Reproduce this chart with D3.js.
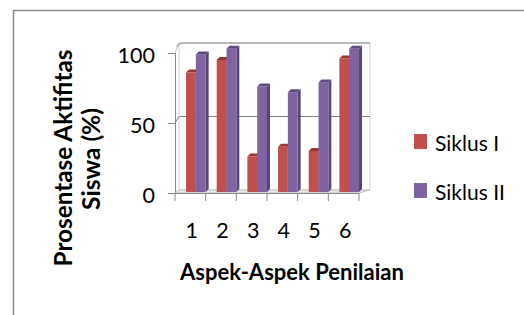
<!DOCTYPE html>
<html><head><meta charset="utf-8">
<script src="https://cdn.jsdelivr.net/npm/d3@7"></script>
<style>html,body{margin:0;padding:0;background:#fff;}svg{display:block;font-family:Lato,"Open Sans",sans-serif;}</style>
</head><body>
<script>
const categories = ["1","2","3","4","5","6"];
const seriesNames = ["Siklus I","Siklus II"];
const siklus1 = [86, 95, 26, 33, 30, 96];
const siklus2 = [99, 103, 76, 72, 79, 103];
const yTicks = [0, 50, 100];
const colors = ["#C0504D", "#8064A2"];
const topColors = ["#9b3532", "#5f4a80"];
const sideColors = ["#8f302d", "#5a4579"];

const W = 524, H = 315;
const svg = d3.select("body").append("svg").attr("width", W).attr("height", H);

// frame
svg.append("path").attr("d", `M13.5,${H} L13.5,10.5 L${W},10.5`)
  .attr("fill","none").attr("stroke","#8c8c8c").attr("stroke-width",1.5);

const x0 = d3.scaleBand().domain(categories).range([175, 359]).padding(0);
const y = d3.scaleLinear().domain([0, 100]).range([193, 53]);
const yBack = d3.scaleLinear().domain([0, 100]).range([190, 43]);
const backL = 179, backR = 370;

// back wall
svg.append("rect").attr("x", backL).attr("y", yBack(100)).attr("width", backR-backL).attr("height", yBack(0)-yBack(100))
  .attr("fill","#fff").attr("stroke","#d0d0d0").attr("stroke-width",1);
svg.append("path").attr("d", `M${backL-2},${yBack(100)+4} Q${backL-1},${yBack(100)} ${backL+4},${yBack(100)} L${backR},${yBack(100)}`)
  .attr("fill","none").attr("stroke","#b8b8b8").attr("stroke-width",2);
// gridlines (back wall + left wall)
[50].forEach(v => {
  svg.append("path").attr("d", `M175,${y(v)} L${backL},${yBack(v)} L${backR},${yBack(v)}`)
    .attr("fill","none").attr("stroke","#808080").attr("stroke-width",1);
});
// left wall
svg.append("path").attr("d", `M175,${y(100)} L${backL},${yBack(100)}`).attr("stroke","#c8c8c8").attr("fill","none");
// floor
svg.append("path").attr("d", `M175,${y(0)} L${backL},${yBack(0)} L${backR},${yBack(0)} L359,${y(0)} Z`)
  .attr("fill","#e4ece6").attr("stroke","#b9c9bf").attr("stroke-width",1);

// bars
const groupOff = x0.bandwidth()*0.36, groupW = x0.bandwidth()*0.64;
const x1 = d3.scaleBand().domain(seriesNames).range([0, groupW]).padding(0);
const data = [siklus1, siklus2];
const dx = 3, dy = -3;
categories.forEach((c, i) => {
  seriesNames.forEach((s, j) => {
    const v = data[j][i];
    const bx = x0(c) + groupOff + x1(s), bw = x1.bandwidth();
    const top = y(v), bot = y(0) - 1;
    const g = svg.append("g");
    g.append("path").attr("d", `M${bx+bw},${top} L${bx+bw+dx},${top+dy} L${bx+bw+dx},${bot+dy} L${bx+bw},${bot} Z`).attr("fill", sideColors[j]);
    g.append("rect").attr("x", bx).attr("y", top).attr("width", bw).attr("height", bot-top).attr("fill", colors[j]);
    g.append("path").attr("d", `M${bx},${top} L${bx+dx},${top+dy} L${bx+bw+dx},${top+dy} L${bx+bw},${top} Z`).attr("fill", topColors[j]);
  });
});

// y axis
const yAxis = d3.axisLeft(y).tickValues(yTicks).tickSize(7).tickPadding(13).tickFormat(d3.format("d"));
const ya = svg.append("g").attr("transform","translate(175,0)").call(yAxis);
ya.select(".domain").attr("stroke","#868686");
ya.selectAll(".tick line").attr("stroke","#868686");
ya.selectAll("text").attr("font-size",21.5).attr("fill","#000").attr("font-family","Lato").attr("dy","0.45em");

// x axis line + boundary ticks
svg.append("line").attr("x1",175).attr("x2",359).attr("y1",193.5).attr("y2",193.5).attr("stroke","#868686");
categories.concat(["end"]).forEach((c, i) => {
  const xx = i < categories.length ? x0(c) : x0(categories[categories.length-1]) + x0.bandwidth();
  svg.append("line").attr("x1",xx).attr("x2",xx).attr("y1",193).attr("y2",201).attr("stroke","#868686");
});
const xAxis = d3.axisBottom(x0).tickSize(0).tickPadding(0);
const xa = svg.append("g").attr("transform","translate(1.5,193)").call(xAxis);
xa.select(".domain").remove();
xa.selectAll("text").attr("font-size",21.5).attr("fill","#000").attr("font-family","Lato").attr("dy","0").attr("y",45);

function fit(t, target) {
  const len = t.node().getComputedTextLength();
  const fs = parseFloat(t.attr("font-size"));
  t.attr("font-size", fs * target / len);
}

// axis titles
const t1 = svg.append("text").attr("transform","translate(72,158) rotate(-90)").attr("text-anchor","middle")
  .attr("font-weight","bold").attr("font-size",20).text("Prosentase Aktifitas");
fit(t1, 217);
const t2 = svg.append("text").attr("transform","translate(100,159) rotate(-90)").attr("text-anchor","middle")
  .attr("font-weight","bold").attr("font-size",20).text("Siswa (%)");
fit(t2, 102);
const t3 = svg.append("text").attr("x",292).attr("y",280).attr("text-anchor","middle")
  .attr("font-weight","bold").attr("font-size",20).text("Aspek-Aspek Penilaian");
fit(t3, 224);

// legend
const legY = [134, 183];
seriesNames.forEach((s, j) => {
  svg.append("rect").attr("x",414).attr("y",legY[j]).attr("width",13).attr("height",15).attr("fill",colors[j]);
  svg.append("text").attr("x",435).attr("y",legY[j]+17).attr("font-size",21).text(s);
});
</script>
</body></html>
